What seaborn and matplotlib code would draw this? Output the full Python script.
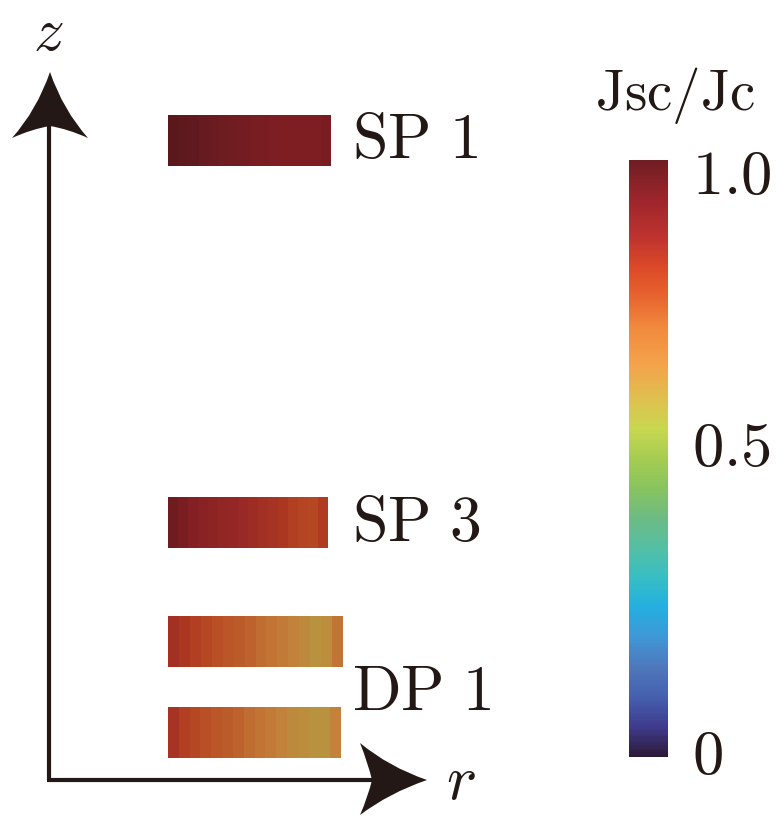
import numpy as np
import pandas as pd
import matplotlib
matplotlib.use("Agg")
import matplotlib.pyplot as plt
import seaborn as sns
from matplotlib.colors import LinearSegmentedColormap, Normalize
from matplotlib.cm import ScalarMappable
from matplotlib.path import Path
from matplotlib.patches import PathPatch

sns.set_theme(style="white")
plt.rcParams["mathtext.fontset"] = "cm"
plt.rcParams["font.family"] = ["DejaVu Serif"]

# ---------------- data ----------------
# Jsc/Jc along r for each sample (left -> right)
sp1_values = [1.00, 0.99, 0.985, 0.975, 0.97, 0.96, 0.955, 0.95,
              0.945, 0.94, 0.935, 0.93, 0.93, 0.93, 0.93, 0.94]
sp3_values = [0.96, 0.94, 0.92, 0.91, 0.90, 0.89, 0.88, 0.87,
              0.86, 0.85, 0.84, 0.83, 0.81, 0.80, 0.79, 0.82]
dp1_top_values = [0.85, 0.83, 0.81, 0.79, 0.77, 0.76, 0.75, 0.74,
                  0.72, 0.70, 0.68, 0.66, 0.64, 0.62, 0.63, 0.70]
dp1_bottom_values = [0.84, 0.81, 0.79, 0.77, 0.76, 0.75, 0.74, 0.72,
                     0.70, 0.68, 0.66, 0.64, 0.63, 0.62, 0.62, 0.66]
sample_labels = ["SP 1", "SP 3", "DP 1"]
cbar_label = "Jsc/Jc"
cbar_tick_labels = ["0", "0.5", "1.0"]

# colormap stops (value, colour)
cmap_stops = [
    (0.00, "#2c1a3a"), (0.05, "#403c8e"), (0.10, "#4560ae"), (0.15, "#4f78bc"),
    (0.20, "#3f98d6"), (0.25, "#23afe0"), (0.30, "#38bec4"), (0.35, "#55bfa4"),
    (0.40, "#6dbb84"), (0.45, "#88c45e"), (0.50, "#a6cc52"), (0.55, "#c8d750"),
    (0.60, "#dfc050"), (0.66, "#f4a24a"), (0.72, "#f08a3e"), (0.77, "#e8652f"),
    (0.82, "#dc4a28"), (0.87, "#c0342f"), (0.93, "#a0262c"), (1.00, "#701e24"),
]

# ---------------- figure ----------------
W, H = 778, 818
fig = plt.figure(figsize=(W / 100, H / 100), dpi=100)
ink = "#231815"

cmap = LinearSegmentedColormap.from_list("jsc", cmap_stops)
shade = 0.80
bar_cmap = LinearSegmentedColormap.from_list(
    "jsc_shaded",
    [(v, tuple(shade * np.array(matplotlib.colors.to_rgb(c)))) for v, c in cmap_stops],
)
norm = Normalize(vmin=0, vmax=1)


def px_axes(x0, y0, x1, y1):
    return fig.add_axes([x0 / W, 1 - y1 / H, (x1 - x0) / W, (y1 - y0) / H])


ax = fig.add_axes([0, 0, 1, 1])
ax.set_xlim(0, W)
ax.set_ylim(H, 0)
ax.axis("off")

# axes lines
ax.plot([49, 49], [781, 125], color=ink, lw=3.0, solid_capstyle="butt")
ax.plot([47.5, 375], [780, 780], color=ink, lw=3.0, solid_capstyle="butt")


def stealth(tip, wing1, notch, wing2, c1, c2, c3, c4):
    verts = [tip, c1, wing1, c2, notch, c3, wing2, c4, tip, tip]
    codes = [Path.MOVETO, Path.CURVE3, Path.CURVE3, Path.CURVE3, Path.CURVE3,
             Path.CURVE3, Path.CURVE3, Path.CURVE3, Path.CURVE3, Path.CLOSEPOLY]
    ax.add_patch(PathPatch(Path(verts, codes), facecolor=ink, edgecolor="none"))


# z arrow head
stealth((50, 72), (88, 138), (50, 126), (12, 138),
        (63, 110), (68, 129), (32, 129), (37, 110))
# r arrow head
stealth((427, 780), (360, 815), (372, 780), (360, 743),
        (389, 793), (368, 797), (368, 763), (389, 767))

ax.text(48, 3, "$z$", fontsize=44, color=ink, ha="center", va="top")
ax.text(461, 799, "$r$", fontsize=46, color=ink, ha="center", va="baseline")


def bar(values_rows, x0, y0, x1, y1):
    a = px_axes(x0, y0, x1, y1)
    df = pd.DataFrame(values_rows)
    sns.heatmap(df, ax=a, cmap=bar_cmap, vmin=0, vmax=1, cbar=False,
                xticklabels=False, yticklabels=False, linewidths=0)
    a.set_xlabel("")
    a.set_ylabel("")
    for s in a.spines.values():
        s.set_visible(False)
    return a


bar([sp1_values], 168, 115, 331, 166)
bar([sp3_values], 168, 497, 328, 548)
bar([dp1_top_values], 168, 616, 343, 667)
bar([dp1_bottom_values], 168, 707, 341, 758)

label_style = dict(fontsize=46, color=ink, ha="left", va="center")
label_y = [140, 523, 692]
for lab, y in zip(sample_labels, label_y):
    ax.text(352, y, r"$\mathrm{%s}$" % lab.replace(" ", r"\ "), **label_style)

# colour bar
cax = px_axes(629, 160, 668, 757)
cb = fig.colorbar(ScalarMappable(norm=norm, cmap=cmap), cax=cax)
cb.outline.set_visible(False)
cb.set_ticks([])
cax.tick_params(length=0)
tick_y = [756, 448, 176]
for lab, y in zip(cbar_tick_labels, tick_y):
    ax.text(692, y, f"${lab}$", fontsize=45, color=ink, ha="left", va="center")
ax.text(675, 95, r"$\mathrm{%s}$" % cbar_label, fontsize=41, color=ink,
        ha="center", va="center")

fig.savefig("out.png", dpi=100, facecolor="white")
